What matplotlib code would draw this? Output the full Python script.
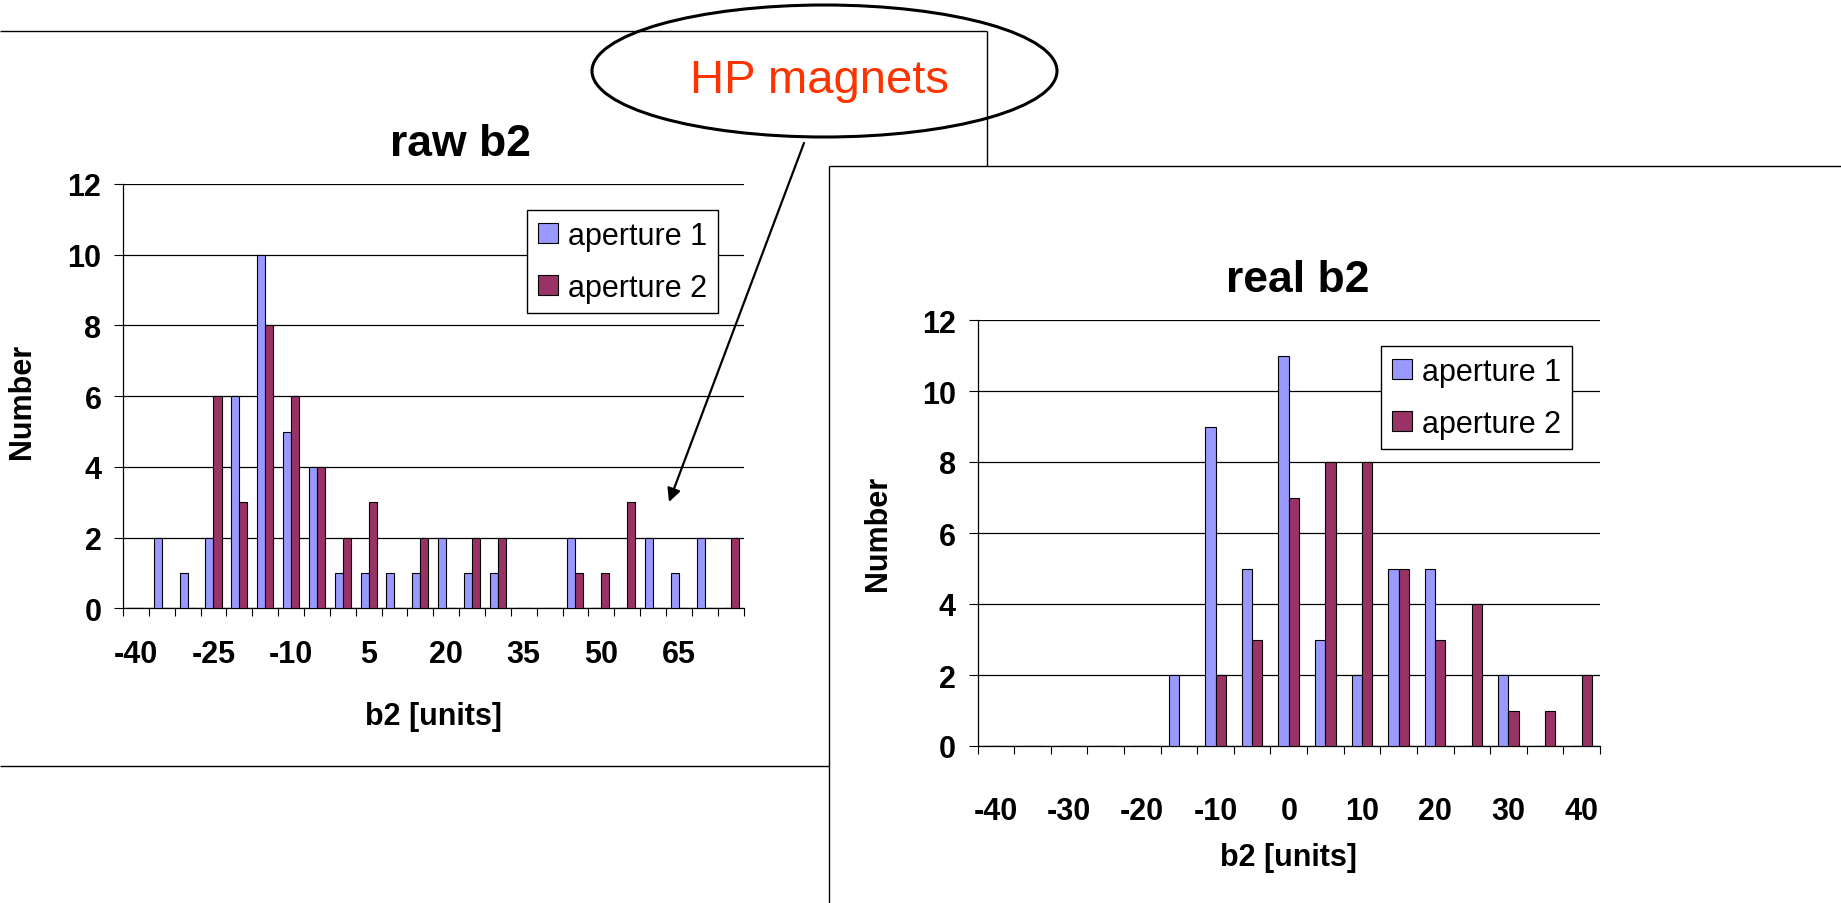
import numpy as np
import matplotlib
matplotlib.use("Agg")
import matplotlib.pyplot as plt
from matplotlib.patches import Ellipse

plt.rcParams['font.family'] = ['Liberation Sans', 'DejaVu Sans']

# ---------------- data ----------------
raw_cats = [-40, -35, -30, -25, -20, -15, -10, -5, 0, 5, 10, 15,
            20, 25, 30, 35, 40, 45, 50, 55, 60, 65, 70, 75]
raw_ap1 = [0, 2, 1, 2, 6, 10, 5, 4, 1, 1, 1, 1, 2, 1, 1, 0, 0, 2, 0, 0, 2, 1, 2, 0]
raw_ap2 = [0, 0, 0, 6, 3, 8, 6, 4, 2, 3, 0, 2, 0, 2, 2, 0, 0, 1, 1, 3, 0, 0, 0, 2]

real_cats = [-40, -35, -30, -25, -20, -15, -10, -5, 0, 5, 10, 15, 20, 25, 30, 35, 40]
real_ap1 = [0, 0, 0, 0, 0, 2, 9, 5, 11, 3, 2, 5, 5, 0, 2, 0, 0]
real_ap2 = [0, 0, 0, 0, 0, 0, 2, 3, 7, 8, 8, 5, 3, 4, 1, 1, 2]

series_names = ['aperture 1', 'aperture 2']
y_ticks = [0, 2, 4, 6, 8, 10, 12]

C1 = '#9999FF'
C2 = '#993366'

W, H = 1841, 904
fig = plt.figure(figsize=(W / 100, H / 100), dpi=100)
fig.patch.set_facecolor('white')


def px_axes(x0, y0, x1, y1):
    return fig.add_axes([x0 / W, 1 - y1 / H, (x1 - x0) / W, (y1 - y0) / H])


def draw_chart(ax, cats, a1, a2, skip, width, xpad, legend_xy):
    n = len(cats)
    x = np.arange(n)
    b1 = ax.bar(x - width / 2, a1, width, color=C1, edgecolor='black',
                linewidth=0.8, zorder=3, label=series_names[0])
    b2 = ax.bar(x + width / 2, a2, width, color=C2, edgecolor='black',
                linewidth=0.8, zorder=3, label=series_names[1])
    ax.set_xlim(-0.5, n - 0.5)
    ax.set_ylim(0, 12)
    ax.set_yticks(y_ticks)
    ax.yaxis.grid(True, color='black', linewidth=0.9, zorder=0)
    ax.set_axisbelow(True)
    ax.set_xticks(x[::skip])
    ax.set_xticklabels([str(c) for c in cats[::skip]])
    ax.set_xticks(np.arange(-0.5, n, 1), minor=True)
    ax.tick_params(axis='x', which='major', length=0, pad=xpad, labelsize=22)
    ax.tick_params(axis='x', which='minor', length=6, width=0.8, direction='out')
    ax.tick_params(axis='y', length=6.5, width=0.8, pad=9, labelsize=22)
    for lbl in ax.get_xticklabels() + ax.get_yticklabels():
        lbl.set_fontweight('bold')
    for s in ('top', 'right'):
        ax.spines[s].set_visible(False)
    for s in ('left', 'bottom'):
        ax.spines[s].set_linewidth(0.9)
    ax.set_facecolor('none')
    leg = ax.legend(handles=[b1, b2], loc='upper left',
                    bbox_to_anchor=(legend_xy[0] / W, 1 - legend_xy[1] / H),
                    bbox_transform=fig.transFigure, frameon=True, fancybox=False,
                    edgecolor='black', framealpha=1, fontsize=22,
                    handlelength=0.65, handleheight=0.65, handletextpad=0.35,
                    borderpad=0.35, labelspacing=0.72, borderaxespad=0)
    leg.get_frame().set_linewidth(1.0)
    return ax


# left chart (raw b2)
axL = px_axes(123, 185, 743.5, 609.3)
draw_chart(axL, raw_cats, raw_ap1, raw_ap2, 3, 0.31, 22, (527, 211))
axL.set_xlabel('b2 [units]', fontsize=22, fontweight='bold', va='center')
axL.xaxis.set_label_coords(0.5, (609.3 - 717) / (609.3 - 185))
axL.set_ylabel('Number', fontsize=22, fontweight='bold', va='center', ha='center')
axL.yaxis.set_label_coords((22.5 - 123) / (743.5 - 123), (609.3 - 401) / (609.3 - 185))

# right chart (real b2)
axR = px_axes(977.5, 321, 1600, 747)
draw_chart(axR, real_cats, real_ap1, real_ap2, 2, 0.28, 36, (1381, 347))
axR.set_xlabel('b2 [units]', fontsize=22, fontweight='bold', va='center')
axR.xaxis.set_label_coords(0.5, (747 - 858) / (747 - 321))
axR.set_ylabel('Number', fontsize=22, fontweight='bold', va='center', ha='center')
axR.yaxis.set_label_coords((878 - 977.5) / (1600 - 977.5), (747 - 533) / (747 - 321))

# overlay: frames, titles, callout
ov = fig.add_axes([0, 0, 1, 1], zorder=10)
ov.set_xlim(0, W)
ov.set_ylim(H, 0)
ov.axis('off')

frame_kw = dict(color='black', linewidth=1.0, solid_capstyle='butt')
ov.plot([0, 987], [32, 32], **frame_kw)
ov.plot([987, 987], [32, 167], **frame_kw)
ov.plot([0, 829], [767, 767], **frame_kw)
ov.plot([829, 1841], [167, 167], **frame_kw)
ov.plot([829, 829], [167, 904], **frame_kw)

ov.text(460, 156, 'raw b2', fontsize=32, fontweight='bold', ha='center', va='baseline')
ov.text(1298, 292, 'real b2', fontsize=32, fontweight='bold', ha='center', va='baseline')

ov.add_patch(Ellipse((824.5, 72), 465, 132, fill=False, linewidth=2.2, edgecolor='black'))
ov.text(820, 93, 'HP magnets', color='#FF3300', fontsize=34, ha='center', va='baseline')
ov.annotate('', xy=(669, 503), xytext=(804, 144),
            arrowprops=dict(arrowstyle='-|>', color='black', lw=1.6,
                            mutation_scale=20, shrinkA=0, shrinkB=0))

fig.savefig('out.png', dpi=100, facecolor='white')
